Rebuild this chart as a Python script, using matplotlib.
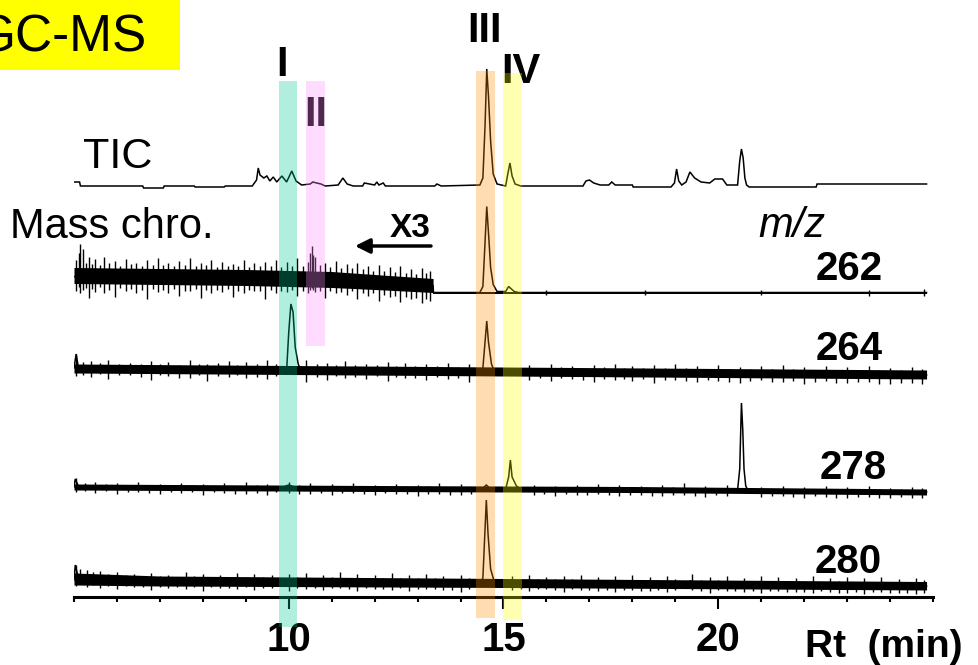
import matplotlib
matplotlib.use('Agg')
import matplotlib.pyplot as plt
from matplotlib.patches import Rectangle
from matplotlib.transforms import Affine2D
from matplotlib.ticker import MultipleLocator, FixedLocator

plt.rcParams['font.family'] = ['Liberation Sans', 'DejaVu Sans']

# ---------------- data (retention time in min, intensity in arbitrary units) ----------------
trace_names = ['TIC', '262', '264', '278', '280']
trace_offsets = [411, 304.5, 225, 108, 13]

tic_trace = [(5.00, 4), (5.13, 4), (5.15, 0), (6.60, 0), (6.62, -2), (7.08, -2), (7.10, 0),
             (7.80, 0), (7.82, -1), (8.50, -1), (8.52, 0), (9.15, 0), (9.25, 6), (9.29, 18),
             (9.33, 11), (9.42, 8), (9.49, 10), (9.56, 5), (9.64, 9), (9.72, 4), (9.84, 10),
             (9.95, 4), (10.07, 15), (10.17, 5), (10.30, 1), (10.50, 2), (10.56, 4), (10.65, 3),
             (10.75, 2), (10.85, 0), (11.15, 1), (11.26, 8), (11.36, 2), (11.50, 0), (11.72, 0),
             (11.76, 3), (12.00, 1), (12.05, 4), (12.10, 1), (12.20, 3), (12.25, 0), (13.40, 0),
             (13.45, 2), (13.55, 0), (14.45, 1), (14.52, 8), (14.57, 60), (14.61, 117),
             (14.65, 90), (14.70, 45), (14.76, 12), (14.85, 2), (15.05, 0), (15.10, 12),
             (15.15, 23), (15.20, 10), (15.27, 2), (15.40, 0), (16.85, 0), (16.92, 5),
             (17.00, 6), (17.10, 3), (17.25, 1), (17.45, 1), (17.52, 4), (17.60, 1), (18.00, 1),
             (18.02, -1), (18.90, -1), (18.98, 3), (19.03, 17), (19.08, 5), (19.15, 1),
             (19.25, 4), (19.34, 14), (19.45, 8), (19.60, 4), (19.80, 3), (19.92, 7),
             (20.10, 7), (20.20, 1), (20.45, 1), (20.50, 25), (20.54, 37), (20.58, 28),
             (20.62, 8), (20.66, 1), (20.72, -1), (22.28, -1), (22.30, 2), (24.85, 2)]

mz262_trace = [(5.00, 16), (13.36, 7), (13.37, 0), (14.45, 0), (14.52, 6), (14.57, 50),
               (14.61, 86), (14.65, 60), (14.70, 25), (14.76, 8), (14.85, 1), (15.05, 1),
               (15.12, 6), (15.17, 4), (15.25, 1), (15.35, 0), (24.85, 0)]
mz264_trace = [(5.00, 4), (5.05, 18), (5.10, 5), (9.85, 1), (9.95, 1), (10.00, 40),
               (10.05, 68), (10.10, 60), (10.15, 25), (10.22, 8), (10.30, 0), (14.45, -1),
               (14.52, 4), (14.57, 30), (14.61, 51), (14.65, 30), (14.72, 8), (14.80, -1),
               (15.10, -1), (15.15, 3), (15.22, -1), (24.85, -3)]
mz278_trace = [(5.00, 2), (5.03, 10), (5.10, 3), (9.80, 1), (10.00, 4), (10.20, 1),
               (14.50, 0), (14.60, 4), (14.70, 0), (15.05, 0), (15.12, 12), (15.16, 29),
               (15.20, 12), (15.30, 3), (15.40, 0), (20.45, -1), (20.50, 20), (20.54, 86),
               (20.57, 60), (20.60, 20), (20.64, 3), (20.70, -2), (24.85, -3)]
mz280_trace = [(5.00, 4), (5.03, 19), (5.08, 10), (5.20, 5), (14.45, 0), (14.52, 6),
               (14.56, 45), (14.60, 84), (14.64, 50), (14.70, 15), (14.78, 3), (14.90, 0),
               (19.20, 0), (19.35, 3), (19.50, 0), (24.85, -2)]

# noise envelopes: (rt, low, high)
mz262_noise = [[(5.0, 9, 25), (7.0, 8, 24), (9.0, 7, 23), (11.0, 5, 21),
                (12.0, 3, 18), (13.36, 0, 14)],
               [(13.37, -1, 1), (24.85, -1, 1)]]
mz264_noise = [[(5.0, -1, 8), (10.0, -2.5, 6.5), (15.0, -4, 5), (20.0, -5.5, 3.5), (24.85, -7, 2)]]
mz278_noise = [[(5.0, -1, 5), (12.0, -2.5, 3.5), (18.0, -3.5, 2.5), (24.85, -6, 0)]]
mz280_noise = [[(5.0, -1, 11), (7.0, -2, 8), (15.0, -3.5, 5.5), (24.85, -6, 2.5)]]

# visible noise spikes: (rt, low, high)
mz262_spikes = [(5.05, 2, 33), (5.12, 6, 40), (5.15, 0, 49), (5.22, 3, 44), (5.28, 5, 30),
                (5.35, -5, 36), (5.43, 4, 29), (5.5, 1, 34), (5.6, 6, 28), (5.7, 0, 36),
                (5.82, 3, 30), (5.95, -4, 32), (6.08, 5, 27), (6.2, 2, 34), (6.33, 4, 29),
                (6.45, 0, 30), (6.58, 3, 27), (6.7, -6, 33), (6.83, 4, 28), (6.95, 1, 35),
                (7.07, 3, 28), (7.2, 0, 30), (7.33, 4, 27), (7.45, -3, 32), (7.58, 2, 28),
                (7.7, 2, 35), (7.83, 4, 27), (7.95, -5, 30), (8.08, 3, 28), (8.2, 0, 33),
                (8.33, 3, 26), (8.45, 1, 31), (8.58, 4, 27), (8.7, -4, 29), (8.83, 2, 27),
                (8.95, 0, 33), (9.08, 3, 26), (9.2, 2, 30), (9.33, 2, 27), (9.45, -6, 31),
                (9.58, 3, 27), (9.7, 0, 33), (9.83, 2, 26), (9.95, 1, 31), (10.08, 3, 27),
                (10.2, -3, 35), (10.33, 2, 27), (10.45, 0, 31), (10.5, 3, 40), (10.53, 5, 47),
                (10.56, 3, 38), (10.6, 1, 36), (10.72, 2, 28), (10.85, -5, 30), (10.97, 2, 26),
                (11.1, 0, 32), (11.22, 1, 25), (11.35, -2, 29), (11.47, 2, 25), (11.6, -6, 30),
                (11.72, 0, 24), (11.85, -3, 27), (11.97, 0, 22), (12.1, -8, 28), (12.22, -2, 22),
                (12.35, -4, 26), (12.47, -3, 21), (12.6, -9, 27), (12.72, -4, 20),
                (12.85, -6, 24), (12.97, -5, 19), (13.1, -10, 25), (13.2, -6, 20),
                (13.3, -8, 22), (16.0, -2, 3), (18.3, -2, 3), (21.0, -2, 3), (23.5, -3, 3),
                (24.8, -3, 4)]
mz264_spikes = [(5.05, -4, 18), (5.2, -3, 10), (5.4, -5, 11), (5.6, -2, 9), (5.8, -7, 12),
                (6.05, -3, 8), (6.3, -3, 9), (6.55, -5, 8), (6.8, -8, 11), (7.0, -3, 8),
                (7.2, -4, 10), (7.45, -6, 7), (7.7, -6, 12), (7.9, -3, 8), (8.1, -9, 8),
                (8.35, -4, 9), (8.6, -5, 11), (8.8, -3, 7), (9.0, -6, 10), (9.25, -5, 8),
                (9.5, -7, 12), (9.7, -4, 8), (10.4, -10, 12), (10.65, -5, 8), (10.9, -8, 9),
                (11.1, -4, 7), (11.3, -6, 11), (11.55, -5, 7), (11.8, -7, 8), (12.05, -4, 7),
                (12.3, -9, 10), (12.5, -5, 6), (12.7, -6, 9), (12.95, -6, 6), (13.2, -8, 8),
                (13.45, -5, 6), (13.7, -7, 9), (13.95, -6, 5), (14.2, -10, 8), (15.6, -8, 7),
                (15.85, -6, 4), (16.1, -9, 8), (16.35, -6, 5), (16.6, -7, 6), (16.85, -8, 4),
                (17.1, -10, 7), (17.35, -7, 5), (17.6, -8, 8), (17.8, -7, 4), (18.0, -9, 6),
                (18.25, -7, 4), (18.5, -11, 7), (18.75, -8, 4), (19.0, -8, 8), (19.25, -9, 4),
                (19.5, -10, 6), (19.75, -8, 3), (20.0, -9, 7), (20.25, -10, 3), (20.5, -11, 5),
                (20.75, -9, 3), (21.0, -8, 6), (21.25, -10, 3), (21.5, -10, 7), (21.75, -9, 3),
                (22.0, -12, 5), (22.25, -10, 2), (22.5, -9, 6), (22.75, -11, 2), (23.0, -11, 5),
                (23.25, -10, 2), (23.5, -10, 6), (23.75, -12, 2), (24.0, -12, 4),
                (24.25, -11, 2), (24.5, -11, 5), (24.75, -12, 3)]
mz278_spikes = [(5.05, -3, 11), (5.25, -2, 6), (5.5, -4, 7), (5.75, -2, 5), (6.0, -5, 6),
                (6.25, -3, 4), (6.5, -3, 7), (6.75, -4, 4), (7.0, -5, 5), (7.25, -3, 4),
                (7.5, -4, 6), (7.75, -3, 4), (8.0, -6, 5), (8.25, -3, 4), (8.5, -4, 6),
                (8.75, -5, 3), (9.0, -5, 7), (9.25, -4, 4), (9.5, -6, 5), (9.7, -3, 3),
                (10.0, -4, 7), (10.25, -5, 4), (10.5, -5, 6), (10.75, -4, 3), (11.0, -6, 5),
                (11.25, -4, 3), (11.5, -4, 6), (11.75, -5, 3), (12.0, -6, 4), (12.25, -4, 3),
                (12.5, -5, 5), (12.75, -5, 2), (13.0, -7, 4), (13.25, -5, 3), (13.5, -5, 6),
                (13.75, -6, 2), (14.0, -6, 5), (14.25, -5, 2), (15.7, -6, 4), (15.95, -5, 2),
                (16.2, -7, 3), (16.45, -5, 2), (16.7, -6, 4), (16.95, -6, 2), (17.2, -5, 5),
                (17.45, -6, 2), (17.7, -7, 4), (17.95, -6, 1), (18.2, -6, 3), (18.45, -7, 1),
                (18.7, -7, 4), (18.95, -6, 2), (19.2, -6, 6), (19.45, -7, 1), (19.7, -8, 3),
                (19.95, -6, 1), (20.2, -7, 4), (21.0, -8, 2), (21.25, -7, 0), (21.5, -7, 3),
                (21.75, -8, 0), (22.0, -9, 2), (22.25, -7, 0), (22.5, -8, 3), (22.75, -9, 0),
                (23.0, -9, 2), (23.25, -8, 0), (23.5, -8, 3), (23.75, -9, 0), (24.0, -9, 1),
                (24.25, -8, 0), (24.5, -9, 2), (24.75, -9, 1)]
mz280_spikes = [(5.05, -2, 19), (5.15, 0, 15), (5.3, -3, 14), (5.45, -1, 12), (5.6, -4, 13),
                (5.8, -2, 10), (6.0, -5, 12), (6.2, -2, 9), (6.4, -3, 10), (6.6, -3, 8),
                (6.8, -6, 11), (7.0, -3, 8), (7.2, -4, 9), (7.4, -3, 7), (7.6, -5, 12),
                (7.8, -3, 8), (8.0, -7, 10), (8.2, -3, 7), (8.4, -4, 9), (8.6, -4, 7),
                (8.8, -5, 11), (9.0, -3, 7), (9.2, -6, 10), (9.4, -4, 7), (9.6, -4, 9),
                (10.0, -7, 10), (10.2, -4, 7), (10.4, -5, 11), (10.6, -4, 6), (10.8, -6, 9),
                (11.0, -4, 7), (11.2, -4, 12), (11.4, -5, 6), (11.6, -7, 10), (11.8, -4, 6),
                (12.0, -5, 9), (12.2, -5, 6), (12.4, -6, 11), (12.6, -4, 6), (12.8, -7, 9),
                (13.0, -5, 6), (13.2, -5, 10), (13.4, -5, 6), (13.6, -6, 8), (13.8, -6, 5),
                (14.0, -8, 9), (14.2, -5, 6), (15.2, -6, 8), (15.4, -5, 5), (15.6, -7, 9),
                (15.8, -5, 5), (16.0, -5, 7), (16.2, -6, 5), (16.4, -8, 8), (16.6, -5, 5),
                (16.8, -6, 9), (17.0, -6, 4), (17.2, -7, 7), (17.4, -6, 4), (17.6, -8, 8),
                (17.8, -6, 4), (18.0, -6, 9), (18.2, -7, 4), (18.4, -7, 7), (18.6, -6, 4),
                (18.8, -8, 8), (19.0, -6, 5), (19.4, -6, 10), (19.6, -7, 4), (19.8, -9, 7),
                (20.0, -6, 4), (20.2, -7, 8), (20.4, -7, 3), (20.6, -8, 6), (20.8, -7, 3),
                (21.0, -9, 8), (21.2, -7, 3), (21.4, -7, 7), (21.6, -8, 3), (21.8, -8, 6),
                (22.0, -8, 3), (22.2, -9, 8), (22.4, -7, 2), (22.6, -8, 6), (22.8, -9, 3),
                (23.0, -9, 7), (23.2, -8, 2), (23.4, -10, 6), (23.6, -8, 2), (23.8, -8, 7),
                (24.0, -9, 2), (24.2, -9, 5), (24.4, -9, 2), (24.6, -10, 6), (24.8, -9, 4)]

# highlighted compounds: label, rt range
band_labels = ['I', 'II', 'III', 'IV']
band_rt = [(9.77, 10.20), (10.40, 10.84), (14.36, 14.80), (14.99, 15.43)]

x_major = [10, 15, 20]
x_label = 'Rt  (min)'

# ---------------- figure ----------------
W, H = 979, 665
fig = plt.figure(figsize=(W / 100, H / 100), dpi=100)
ax = fig.add_axes([74 / W, 68 / H, 859 / W, 597 / H])
ax.set_xlim(5, 25)
ax.set_ylim(0, 597)
pix = Affine2D().scale(1, -1).translate(0, H)   # figure pixel coords (origin top-left)

traces = [tic_trace, mz262_trace, mz264_trace, mz278_trace, mz280_trace]
noises = [[], mz262_noise, mz264_noise, mz278_noise, mz280_noise]
spikes = [[], mz262_spikes, mz264_spikes, mz278_spikes, mz280_spikes]

for tr, nz, sp, base in zip(traces, noises, spikes, trace_offsets):
    rt = [p[0] for p in tr]
    hv = [base + p[1] for p in tr]
    ax.plot(rt, hv, color='black', lw=1.1, zorder=2, solid_joinstyle='miter')
    for seg in nz:
        ax.fill_between([s[0] for s in seg], [base + s[1] for s in seg],
                        [base + s[2] for s in seg], color='black', lw=0, zorder=2)
    if sp:
        ax.vlines([s[0] for s in sp], [base + s[1] for s in sp], [base + s[2] for s in sp],
                  color='black', lw=1.0, zorder=2)

# translucent highlight bands (drawn over traces)
band_colors = [(0.0, 0.78, 0.58), (1.0, 0.55, 1.0), (1.0, 0.55, 0.0), (1.0, 1.0, 0.0)]
band_ybot = [-30, 251, -21, -23]
band_ytop = [516, 516, 526, 524]
for (r0, r1), c, yb, yt in zip(band_rt, band_colors, band_ybot, band_ytop):
    ax.add_patch(Rectangle((r0, yb), r1 - r0, yt - yb, facecolor=c, edgecolor='none',
                           alpha=0.3, zorder=5, clip_on=False))

# band labels
lab_pos = [(282, 76), (316, 126), (485, 42), (521, 83)]
for lab, (px, py) in zip(band_labels, lab_pos):
    ax.text(px, py, lab, transform=pix, ha='center', va='baseline', fontsize=30,
            fontweight='bold', color='black', zorder=3)

# axes styling
for s in ['left', 'right', 'top']:
    ax.spines[s].set_visible(False)
ax.spines['bottom'].set_linewidth(2.2)
ax.yaxis.set_visible(False)
ax.xaxis.set_major_locator(FixedLocator(x_major))
ax.xaxis.set_minor_locator(MultipleLocator(1))
ax.tick_params(axis='x', which='major', length=8.6, width=1.5, direction='out',
               labelsize=29, pad=9)
ax.tick_params(axis='x', which='minor', length=3.6, width=1.5, direction='out')
for lbl in ax.get_xticklabels():
    lbl.set_fontweight('bold')
ax.set_facecolor('none')

# texts
fig.add_artist(Rectangle((0, 1 - 70 / H), 180 / W, 70 / H, transform=fig.transFigure,
                         facecolor='#ffff00', edgecolor='none', zorder=0))
ax.text(147, 52, 'GC-MS', transform=pix, ha='right', va='baseline', fontsize=37)
ax.text(83, 168, 'TIC', transform=pix, ha='left', va='baseline', fontsize=31)
ax.text(10, 238, 'Mass chro.', transform=pix, ha='left', va='baseline', fontsize=30)
ax.text(390, 237, 'X3', transform=pix, ha='left', va='baseline', fontsize=24,
        fontweight='bold')
ax.annotate('', xy=(355, 246), xytext=(431, 246), xycoords=pix, textcoords=pix,
            arrowprops=dict(arrowstyle='-|>', lw=2.5, color='black', mutation_scale=22,
                            shrinkA=0, shrinkB=0))
ax.text(758, 237, 'm/z', transform=pix, ha='left', va='baseline', fontsize=30,
        style='italic')
mz_label_pos = [(849, 280), (849, 360), (853, 479), (848, 573)]
for name, (px, py) in zip(trace_names[1:], mz_label_pos):
    ax.text(px, py, name, transform=pix, ha='center', va='baseline', fontsize=29,
            fontweight='bold')
ax.text(805, 657, x_label, transform=pix, ha='left', va='baseline', fontsize=28,
        fontweight='bold')

fig.savefig('out.png', dpi=100)
